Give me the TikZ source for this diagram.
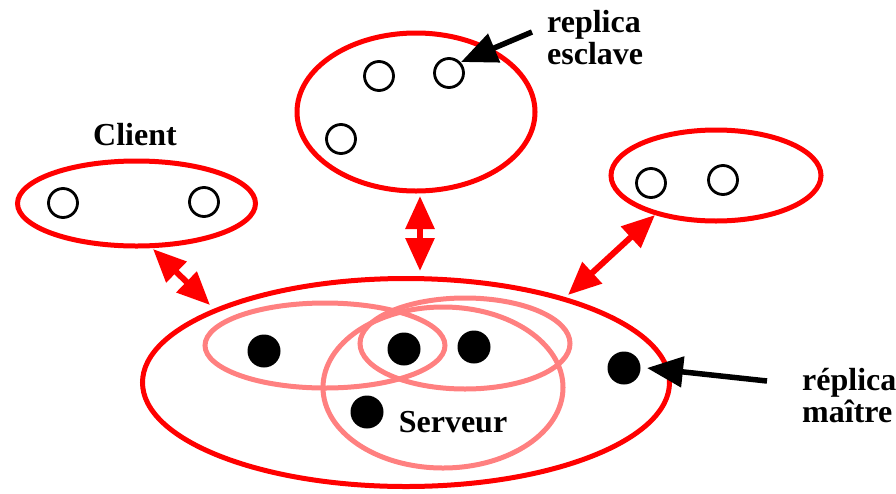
\documentclass[tikz,border=0pt]{standalone}
\usepackage{fontspec}
\setmainfont{Liberation Serif}
\usetikzlibrary{shapes.geometric,arrows.meta}
\definecolor{myred}{RGB}{255,0,0}
\definecolor{mypink}{RGB}{255,128,128}
\tikzset{
  redell/.style={ellipse, draw=myred, line width=5pt, inner sep=0pt, outer sep=0pt},
  pinkell/.style={ellipse, draw=mypink, line width=5pt, inner sep=0pt, outer sep=0pt},
  hollow/.style={circle, draw=black, line width=2.8pt, minimum size=29pt, inner sep=0pt},
  dot/.style={circle, fill=black, minimum size=33pt, inner sep=0pt},
  dblarrow/.style={draw=myred, line width=6pt, {Triangle[length=33pt,width=28pt]}-{Triangle[length=33pt,width=28pt]}},
  blkarrow/.style={draw=black, line width=5.5pt, -{Triangle[length=36pt,width=30pt]}},
  lbl/.style={font=\fontsize{32}{32}\selectfont\bfseries, inner sep=0pt, align=left}
}
\begin{document}
\begin{tikzpicture}[x=1pt,y=-1pt]
\useasboundingbox (0,0) rectangle (896,493);
% ellipses
\node[redell, minimum width=238pt, minimum height=85pt] (client) at (136.5,203.5) {};
\node[redell, minimum width=238pt, minimum height=158pt] (top) at (416,112) {};
\node[redell, minimum width=210pt, minimum height=91pt] (right) at (716,175.5) {};
\node[redell, minimum width=527pt, minimum height=208pt] (server) at (406,382.5) {};
\node[pinkell, minimum width=240pt, minimum height=85pt] (p1) at (325,345.5) {};
\node[pinkell, minimum width=210pt, minimum height=91pt] (p2) at (465,343.5) {};
\node[pinkell, minimum width=240pt, minimum height=161pt] (p3) at (443,387.5) {};
% hollow circles
\node[hollow] (c1) at (63,203) {};
\node[hollow] (c2) at (204,202) {};
\node[hollow] (t1) at (379,76) {};
\node[hollow] (t2) at (449,73) {};
\node[hollow] (t3) at (341,139) {};
\node[hollow] (r1) at (651,183) {};
\node[hollow] (r2) at (723,180) {};
% black dots
\node[dot] (d1) at (264,351) {};
\node[dot] (d2) at (404,349) {};
\node[dot] (d3) at (474,347) {};
\node[dot] (d4) at (367,412) {};
\node[dot] (d5) at (624,368) {};
% labels
\node[lbl, anchor=base] (lclient) at (135,145) {Client};
\node[lbl, anchor=base] (lserv) at (453,432) {Serveur};
\node[lbl, anchor=north west] (lesc) at (547,10.5) {replica\\esclave};
\node[lbl, anchor=north west] (lmai) at (802,368.5) {réplica\\maître};
% connector endpoints
\coordinate (a1) at (153,249);
\coordinate (a2) at (210,305);
\coordinate (b1) at (420,196);
\coordinate (b2) at (420,271);
\coordinate (e1) at (655,215);
\coordinate (e2) at (568,295);
\coordinate (s1) at (532,32);
\coordinate (s2) at (461,62);
\coordinate (m1) at (767,381);
\coordinate (m2) at (647,368);
% connectors
\draw[dblarrow] (a1) -- (a2);
\draw[dblarrow] (b1) -- (b2);
\draw[dblarrow] (e1) -- (e2);
\draw[blkarrow] (s1) -- (s2);
\draw[blkarrow] (m1) -- (m2);
\end{tikzpicture}
\end{document}
